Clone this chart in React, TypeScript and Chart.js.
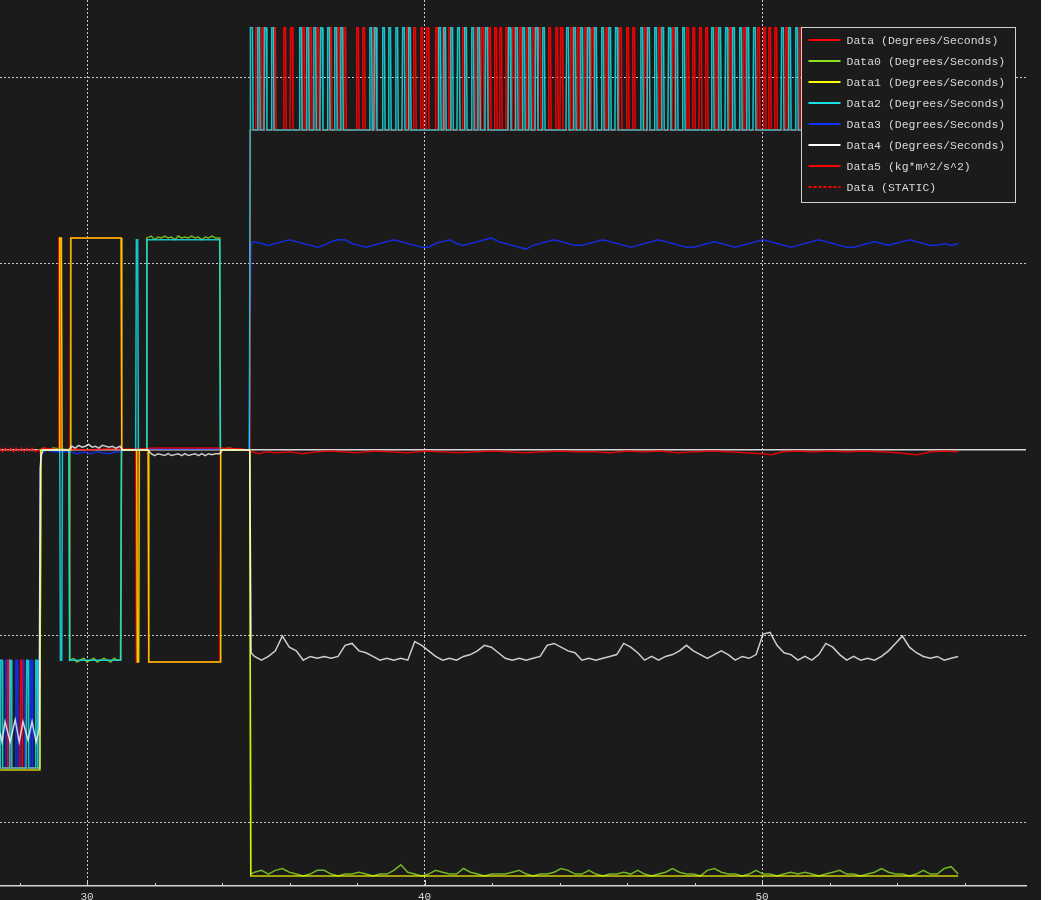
import React, { useEffect, useRef } from "react";
import { Chart, registerables } from "chart.js";

Chart.register(...registerables);

// ---------- axes ----------
const X_MIN = 27.42;
const X_MAX = 57.82;
const Y_MIN = -2.344;
const Y_MAX = 2.419;
const X_LABEL_STEP = 10;
const X_MINOR_STEP = 2;
const Y_GRID_STEP = 1;

// ---------- series ----------
const SERIES_NAMES = [
  "Data (Degrees/Seconds)",
  "Data0 (Degrees/Seconds)",
  "Data1 (Degrees/Seconds)",
  "Data2 (Degrees/Seconds)",
  "Data3 (Degrees/Seconds)",
  "Data4 (Degrees/Seconds)",
  "Data5 (kg*m^2/s^2)",
  "Data (STATIC)",
];
const SERIES_COLORS = ["#ff0000", "#8ee21e", "#ffff00", "#18e0e8", "#1030ff", "#ffffff", "#ff0000", "#ff0000"];
const SERIES_ALPHA = ["f0", "c8", "c8", "d8", "d8", "c8", "d8", "c8"];
const SERIES_ORDER = [4, 5, 1, 2, 6, 0, 3, 7];

// levels
const SQUARE_LOW = 1.72;
const SQUARE_HIGH = 2.27;
const LEFT_LOW = -1.71;
const LEFT_HIGH = -1.13;
const PULSE_WIDTH = 0.07;
const LEFT_PULSE_WIDTH = 0.06;
const EDGE = 0.02;
const LEFT_END = 28.6;
const END_X = 55.81;
const TAIL_START = 34.96;

// left-hand burst (pulse start times)
const RED_LEFT_PULSES = [27.63, 28.01];
const CYAN_LEFT_PULSES = [27.42, 27.69, 28.19, 28.46];
const BLUE_LEFT_PULSES = [27.57, 27.87, 28.07, 28.31, 28.52];

// main square-wave pulses (start times)
const RED_PULSES = [
  34.98, 35.16, 35.51, 35.81, 36.01, 36.37, 36.58, 36.79, 37.17, 37.41, 37.59, 37.97, 38.15, 38.47,
  39.45, 39.66, 39.87, 40.04, 40.31, 40.52, 40.7, 41.11, 41.5, 41.67, 41.88, 42.06, 42.21, 42.39,
  42.59, 42.8, 43.01, 43.19, 43.36, 43.66, 43.87, 44.01, 44.31, 44.52, 44.73, 44.93, 45.35, 45.76,
  45.97, 46.15, 46.5, 46.92, 47.33, 47.75, 47.93, 48.13, 48.31, 48.61, 49.02, 49.44, 49.85, 50.03,
  50.18, 50.36, 50.68, 51.1, 51.51, 51.93, 52.34, 52.76, 53.17, 53.59, 54.0, 54.41, 54.83, 55.24, 55.66,
];
const CYAN_PULSES = [
  34.83, 35.04, 35.24, 35.45, 36.28, 36.49, 36.7, 36.9, 37.11, 37.32, 37.5, 38.36, 38.5, 38.74, 38.92,
  39.13, 39.33, 39.51, 40.4, 40.55, 40.76, 40.96, 41.17, 41.38, 41.56, 41.79, 42.47, 42.68, 42.89,
  43.07, 43.27, 43.48, 44.19, 44.4, 44.61, 44.81, 45.02, 45.23, 45.44, 45.64, 46.39, 46.59, 46.8,
  47.01, 47.21, 47.42, 47.63, 48.49, 48.7, 48.9, 49.11, 49.32, 49.53, 49.73, 50.56, 50.77, 50.98,
  51.39, 51.6, 51.81, 52.22, 52.43, 52.64, 53.05, 53.26, 53.47, 53.88, 54.09, 54.5, 54.71, 54.92,
  55.33, 55.54,
];

// breakpoints [x, y]
const RED_MID: [number, number][] = [
  [28.63, 0], [28.72, 0.01], [29.14, 0], [29.16, 1.14], [29.2, 1.14], [29.22, 0], [29.49, 0], [29.51, 1.14],
  [31.0, 1.14], [31.02, 0], [31.44, 0], [31.46, -1.14], [31.49, -1.14], [31.51, 0], [31.8, 0], [31.82, -1.14],
  [33.93, -1.14], [33.95, 0], [34.82, 0],
];
const YELLOW_PATH: [number, number][] = [
  [27.42, -1.72], [28.6, -1.72], [28.63, 0], [29.17, 0], [29.19, 1.14], [29.24, 1.14], [29.26, 0], [29.5, 0],
  [29.52, 1.14], [31.01, 1.14], [31.03, 0], [31.47, 0], [31.49, -1.14], [31.53, -1.14], [31.55, 0], [31.81, 0],
  [31.83, -1.14], [33.94, -1.14], [33.96, 0], [34.82, 0], [34.85, -2.29], [55.81, -2.29],
];
const CYAN_MID: [number, number][] = [
  [28.63, 0], [29.19, 0], [29.21, -1.13], [29.25, -1.13], [29.27, 0], [29.46, 0], [29.48, -1.13], [31.0, -1.13],
  [31.02, 0], [31.44, 0], [31.46, 1.13], [31.5, 1.13], [31.52, 0], [31.75, 0], [31.77, 1.13], [33.93, 1.13],
  [33.95, 0], [34.81, 0],
];
const GREEN_MID: [number, number][] = [
  [27.42, -1.71], [28.6, -1.71], [28.63, 0], [28.7, 0.01], [28.8, 0], [29.0, 0.01], [29.47, 0], [29.49, -1.13],
  [29.6, -1.12], [29.7, -1.14], [29.8, -1.13], [29.9, -1.12], [30.0, -1.14], [30.1, -1.13], [30.2, -1.12],
  [30.3, -1.14], [30.4, -1.13], [30.5, -1.12], [30.6, -1.13], [30.7, -1.14], [30.8, -1.12], [30.9, -1.13],
  [30.99, -1.13], [31.02, 0], [31.75, 0], [31.77, 1.14], [31.9, 1.15], [32.0, 1.13], [32.1, 1.145], [32.2, 1.14],
  [32.3, 1.15], [32.4, 1.14], [32.5, 1.145], [32.6, 1.13], [32.7, 1.15], [32.8, 1.14], [32.9, 1.145], [33.0, 1.14],
  [33.1, 1.15], [33.2, 1.14], [33.3, 1.145], [33.4, 1.13], [33.5, 1.145], [33.6, 1.14], [33.7, 1.15], [33.8, 1.14],
  [33.93, 1.14], [33.95, 0], [34.2, 0.01], [34.5, 0], [34.82, 0], [34.85, -2.28],
];
const BLUE_MID: [number, number][] = [
  [28.62, -0.12], [28.66, -0.02], [28.8, 0], [29.0, -0.01], [29.5, -0.01], [29.7, -0.02], [29.9, -0.01],
  [30.1, -0.02], [30.3, -0.01], [30.6, -0.02], [30.9, -0.01], [31.2, 0], [31.8, 0.005], [32.5, 0.005],
  [33.5, 0.005], [34.5, 0.005], [34.79, 0], [34.86, 1.1], [34.92, 1.12],
];
const WHITE_LEFT: [number, number][] = [
  [27.42, -1.52], [27.48, -1.57], [27.57, -1.46], [27.72, -1.57], [27.87, -1.45], [27.99, -1.57],
  [28.1, -1.46], [28.25, -1.56], [28.37, -1.46], [28.49, -1.57], [28.58, -1.5],
];
const WHITE_MID: [number, number][] = [
  [28.61, -0.1], [28.64, -0.03], [28.7, 0], [29.0, 0], [29.45, 0], [29.55, 0.02], [29.65, 0.01], [29.75, 0.025],
  [29.85, 0.015], [29.95, 0.02], [30.05, 0.03], [30.15, 0.015], [30.25, 0.02], [30.35, 0.01], [30.45, 0.025],
  [30.55, 0.02], [30.65, 0.015], [30.75, 0.02], [30.85, 0.01], [30.98, 0.02], [31.05, 0], [31.8, 0],
  [31.9, -0.02], [32.0, -0.03], [32.1, -0.02], [32.2, -0.025], [32.3, -0.03], [32.4, -0.02], [32.5, -0.03],
  [32.6, -0.025], [32.7, -0.02], [32.8, -0.03], [32.9, -0.02], [33.0, -0.03], [33.1, -0.025], [33.2, -0.02],
  [33.3, -0.03], [33.4, -0.02], [33.5, -0.03], [33.6, -0.02], [33.7, -0.025], [33.8, -0.02], [33.93, -0.02],
  [34.0, 0], [34.82, 0], [34.86, -1.09],
];
const DATA5_PATH: [number, number][] = [
  [27.42, 0.01], [27.5, -0.01], [27.58, 0.01], [27.66, -0.005], [27.74, 0.01], [27.82, -0.01], [27.9, 0.01],
  [27.98, -0.005], [28.06, 0.01], [28.14, -0.01], [28.22, 0.01], [28.3, -0.005], [28.38, 0.01], [28.46, -0.01],
  [28.54, 0], [28.6, 0], [28.63, -0.04], [28.67, 0], [28.8, 0.005], [29.2, 0], [29.6, 0.005], [30.0, 0],
  [30.5, 0.005], [31.0, 0.005], [31.5, 0.005], [32.0, 0.01], [33.0, 0.01], [34.0, 0.01], [34.6, 0.005],
  [34.9, -0.01], [35.1, -0.02], [35.3, -0.01], [35.6, -0.015], [36.0, -0.01], [36.4, -0.02], [36.8, -0.01],
  [37.2, -0.005], [37.6, -0.01], [38.0, -0.015], [38.5, -0.005], [39.0, -0.01], [39.5, -0.015], [40.0, -0.005],
  [40.5, -0.01], [41.0, -0.015], [41.5, -0.01], [42.0, -0.005], [42.5, -0.01], [43.0, -0.015], [43.5, -0.01],
  [44.0, -0.005], [44.5, -0.01], [45.0, -0.01], [45.5, -0.015], [46.0, -0.005], [46.5, -0.01], [47.0, -0.005],
  [47.5, -0.015], [48.0, -0.01], [48.5, -0.005], [49.0, -0.01], [49.5, -0.015], [50.0, -0.02], [50.3, -0.025],
  [50.6, -0.01], [51.0, -0.005], [51.5, -0.01], [52.0, -0.005], [52.5, -0.01], [53.0, -0.005], [53.5, -0.01],
  [54.0, -0.015], [54.3, -0.02], [54.6, -0.025], [55.0, -0.01], [55.4, -0.005], [55.81, -0.01],
];

// evenly sampled tails from TAIL_START to END_X
const GREEN_TAIL = [
  -2.27, -2.26, -2.28, -2.26, -2.25, -2.27, -2.28, -2.29, -2.28, -2.26,
  -2.26, -2.28, -2.29, -2.28, -2.28, -2.27, -2.28, -2.29, -2.28, -2.28,
  -2.26, -2.23, -2.27, -2.28, -2.29, -2.28, -2.26, -2.27, -2.28, -2.28,
  -2.25, -2.27, -2.28, -2.29, -2.28, -2.28, -2.28, -2.27, -2.26, -2.28,
  -2.29, -2.28, -2.28, -2.27, -2.25, -2.26, -2.28, -2.28, -2.26, -2.28,
  -2.29, -2.28, -2.28, -2.27, -2.28, -2.26, -2.28, -2.29, -2.28, -2.27,
  -2.25, -2.27, -2.28, -2.28, -2.29, -2.26, -2.25, -2.27, -2.28, -2.28,
  -2.29, -2.28, -2.26, -2.28, -2.28, -2.29, -2.28, -2.27, -2.28, -2.27,
  -2.28, -2.29, -2.28, -2.27, -2.26, -2.28, -2.28, -2.29, -2.28, -2.27,
  -2.25, -2.27, -2.28, -2.28, -2.29, -2.28, -2.26, -2.28, -2.28, -2.25,
  -2.24, -2.28,
];
const BLUE_TAIL = [
  1.12, 1.11, 1.1, 1.11, 1.12, 1.13, 1.12, 1.11, 1.1, 1.09,
  1.1, 1.12, 1.13, 1.13, 1.11, 1.1, 1.09, 1.1, 1.11, 1.12,
  1.13, 1.12, 1.11, 1.1, 1.09, 1.09, 1.11, 1.12, 1.13, 1.11,
  1.1, 1.11, 1.12, 1.13, 1.14, 1.12, 1.11, 1.1, 1.09, 1.08,
  1.1, 1.11, 1.12, 1.13, 1.12, 1.11, 1.1, 1.1, 1.11, 1.12,
  1.13, 1.12, 1.11, 1.1, 1.09, 1.1, 1.11, 1.12, 1.13, 1.12,
  1.11, 1.1, 1.09, 1.09, 1.1, 1.11, 1.12, 1.11, 1.1, 1.09,
  1.1, 1.11, 1.12, 1.13, 1.12, 1.11, 1.1, 1.09, 1.1, 1.11,
  1.12, 1.13, 1.12, 1.11, 1.1, 1.09, 1.09, 1.1, 1.11, 1.12,
  1.11, 1.1, 1.11, 1.12, 1.13, 1.12, 1.11, 1.1, 1.1, 1.11,
  1.1, 1.11,
];
const WHITE_TAIL = [
  -1.11, -1.13, -1.11, -1.08, -1.0, -1.06, -1.08, -1.13, -1.11, -1.12,
  -1.11, -1.12, -1.11, -1.05, -1.04, -1.08, -1.09, -1.11, -1.13, -1.12,
  -1.13, -1.12, -1.13, -1.03, -1.05, -1.08, -1.11, -1.13, -1.12, -1.13,
  -1.11, -1.1, -1.08, -1.05, -1.06, -1.09, -1.12, -1.13, -1.12, -1.13,
  -1.12, -1.11, -1.05, -1.04, -1.06, -1.08, -1.09, -1.13, -1.12, -1.13,
  -1.12, -1.11, -1.1, -1.04, -1.06, -1.09, -1.13, -1.11, -1.13, -1.11,
  -1.1, -1.08, -1.05, -1.08, -1.1, -1.12, -1.1, -1.08, -1.1, -1.13,
  -1.11, -1.12, -1.1, -0.99, -0.98, -1.05, -1.09, -1.1, -1.13, -1.11,
  -1.13, -1.1, -1.04, -1.06, -1.1, -1.13, -1.11, -1.13, -1.12, -1.13,
  -1.11, -1.08, -1.04, -1.0, -1.06, -1.09, -1.11, -1.12, -1.11, -1.13,
  -1.12, -1.11,
];

// ---------- styling ----------
const BG = "#1b1b1b";
const AXIS_COLOR = "#d4d4d4";
const GRID_COLOR = "#c8c8c8";
const TEXT_COLOR = "#d8d8d8";
const FONT_FAMILY = "'Liberation Mono', 'DejaVu Sans Mono', monospace";

type P = { x: number; y: number };
const pairs = (a: [number, number][]): P[] => a.map(([x, y]) => ({ x, y }));
const squareWave = (starts: number[], lo: number, hi: number, width: number, x0: number, x1: number): P[] => {
  const pts: P[] = [{ x: x0, y: lo }];
  starts.forEach((s) => {
    pts.push({ x: s, y: lo }, { x: s + EDGE, y: hi }, { x: s + width, y: hi }, { x: s + width + EDGE, y: lo });
  });
  pts.push({ x: x1, y: lo });
  return pts;
};
const tail = (values: number[]): P[] => {
  const step = (END_X - TAIL_START) / (values.length - 1);
  return values.map((y, i) => ({ x: TAIL_START + i * step, y }));
};

const SERIES_DATA: P[][] = [
  [
    ...squareWave(RED_LEFT_PULSES, LEFT_LOW, LEFT_HIGH, LEFT_PULSE_WIDTH, X_MIN, LEFT_END),
    ...pairs(RED_MID),
    ...squareWave(RED_PULSES, SQUARE_LOW, SQUARE_HIGH, PULSE_WIDTH, 34.84, END_X),
  ],
  [...pairs(GREEN_MID), ...tail(GREEN_TAIL)],
  pairs(YELLOW_PATH),
  [
    ...squareWave(CYAN_LEFT_PULSES, LEFT_LOW, LEFT_HIGH, LEFT_PULSE_WIDTH, X_MIN, LEFT_END),
    ...pairs(CYAN_MID),
    ...squareWave(CYAN_PULSES, SQUARE_LOW, SQUARE_HIGH, PULSE_WIDTH, 34.83, END_X),
  ],
  [
    ...squareWave(BLUE_LEFT_PULSES, LEFT_LOW, LEFT_HIGH, LEFT_PULSE_WIDTH, X_MIN, LEFT_END),
    ...pairs(BLUE_MID),
    ...tail(BLUE_TAIL),
  ],
  [...pairs(WHITE_LEFT), ...pairs(WHITE_MID), ...tail(WHITE_TAIL)],
  pairs(DATA5_PATH),
  [],
];

const boxLegend = {
  id: "boxLegend",
  afterDraw(chart: any) {
    const ctx: CanvasRenderingContext2D = chart.ctx;
    const area = chart.chartArea;
    const w = 214;
    const h = 175;
    const x0 = Math.round(area.right - 11 - w) + 0.5;
    const y0 = 27.5;
    ctx.save();
    ctx.fillStyle = BG;
    ctx.fillRect(x0, y0, w, h);
    ctx.strokeStyle = "#d0d0d0";
    ctx.lineWidth = 1;
    ctx.strokeRect(x0, y0, w, h);
    ctx.font = `11.5px ${FONT_FAMILY}`;
    ctx.textBaseline = "middle";
    chart.data.datasets.forEach((ds: any, i: number) => {
      const y = Math.round(y0 + 12 + i * 21);
      ctx.strokeStyle = SERIES_COLORS[i];
      ctx.lineWidth = 2;
      ctx.setLineDash(i === 7 ? [3, 2] : []);
      ctx.beginPath();
      ctx.moveTo(x0 + 7, y);
      ctx.lineTo(x0 + 39, y);
      ctx.stroke();
      ctx.setLineDash([]);
      ctx.fillStyle = TEXT_COLOR;
      ctx.fillText(ds.label, x0 + 45, y + 0.5);
    });
    ctx.restore();
  },
};

const minorTicks = {
  id: "minorTicks",
  afterDraw(chart: any) {
    const xs = chart.scales.x;
    const ctx: CanvasRenderingContext2D = chart.ctx;
    const bottom = chart.chartArea.bottom;
    ctx.save();
    ctx.strokeStyle = AXIS_COLOR;
    ctx.lineWidth = 1;
    for (let v = Math.ceil(X_MIN / X_MINOR_STEP) * X_MINOR_STEP; v <= X_MAX; v += X_MINOR_STEP) {
      const px = Math.round(xs.getPixelForValue(v)) + 0.5;
      const len = v % X_LABEL_STEP === 0 ? 6 : 3;
      ctx.beginPath();
      ctx.moveTo(px, bottom);
      ctx.lineTo(px, bottom - len);
      ctx.stroke();
    }
    ctx.restore();
  },
};

export default function App() {
  const ref = useRef<HTMLCanvasElement>(null);
  useEffect(() => {
    const chart = new Chart(ref.current as HTMLCanvasElement, {
      type: "line",
      data: {
        datasets: SERIES_NAMES.map((label, i) => ({
          label,
          data: SERIES_DATA[i],
          borderColor: SERIES_COLORS[i] + SERIES_ALPHA[i],
          borderWidth: 1.5,
          borderDash: i === 7 ? [3, 2] : [],
          pointRadius: 0,
          tension: 0,
          fill: false,
          order: SERIES_ORDER[i],
        })),
      },
      options: {
        animation: false,
        responsive: false,
        events: [],
        layout: { padding: { left: 0, right: 15, top: 0, bottom: -6 } },
        plugins: { legend: { display: false }, tooltip: { enabled: false } },
        scales: {
          x: {
            type: "linear",
            min: X_MIN,
            max: X_MAX,
            grid: { color: GRID_COLOR, lineWidth: 1, drawTicks: false },
            border: { display: true, color: AXIS_COLOR, width: 1.5, dash: [2, 2] },
            ticks: {
              stepSize: X_LABEL_STEP,
              includeBounds: false,
              color: TEXT_COLOR,
              padding: 6,
              maxRotation: 0,
              autoSkip: false,
              font: { family: FONT_FAMILY, size: 11, lineHeight: 1 },
            },
          },
          y: {
            type: "linear",
            min: Y_MIN,
            max: Y_MAX,
            grid: {
              color: (c: any) => (c.tick && c.tick.value === 0 ? "#dadada" : GRID_COLOR),
              lineWidth: (c: any) => (c.tick && c.tick.value === 0 ? 1.5 : 1),
              drawTicks: false,
            },
            border: { display: false, dash: (c: any) => (c.tick && c.tick.value === 0 ? [] : [2, 2]) },
            ticks: { display: false, stepSize: Y_GRID_STEP, includeBounds: false },
          },
        },
      },
      plugins: [minorTicks, boxLegend],
    } as any);
    return () => chart.destroy();
  }, []);
  return (
    <div
      style={{ position: "fixed", left: 0, top: 0, width: 1041, height: 900, overflow: "hidden", background: BG }}
    >
      <canvas ref={ref} width={1041} height={903} style={{ display: "block" }} />
    </div>
  );
}
